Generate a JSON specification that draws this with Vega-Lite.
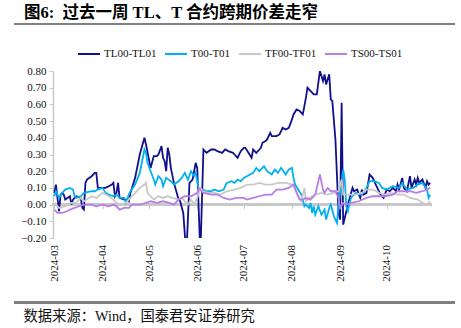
{
  "$schema": "https://vega.github.io/schema/vega-lite/v6.json",
  "width": 441,
  "height": 167,
  "autosize": {"type": "none"},
  "padding": {"left": 14, "top": 71, "right": 6, "bottom": 90},
  "background": "white",
  "config": {
    "view": {"stroke": null},
    "font": "Liberation Serif, Noto Sans CJK SC",
    "axis": {"labelFont": "Liberation Serif", "labelFontSize": 11, "labelColor": "#111"}
  },
  "title": {
    "text": "图6:\u2002过去一周 TL、T 合约跨期价差走窄",
    "anchor": "start",
    "frame": "group",
    "dx": 10,
    "offset": 2,
    "fontSize": 16.5,
    "font": "Liberation Serif, Noto Sans CJK SC",
    "fontWeight": "bold",
    "color": "#000"
  },
  "data": {"values": [
    {"s":"TL00-TL01","d":"2024-03-01","v":0.07},{"s":"TL00-TL01","d":"2024-03-02","v":0.12},{"s":"TL00-TL01","d":"2024-03-04","v":-0.04},{"s":"TL00-TL01","d":"2024-03-05","v":0.06},{"s":"TL00-TL01","d":"2024-03-06","v":0.07},{"s":"TL00-TL01","d":"2024-03-07","v":0.06},{"s":"TL00-TL01","d":"2024-03-08","v":0.03},{"s":"TL00-TL01","d":"2024-03-11","v":0.05},{"s":"TL00-TL01","d":"2024-03-12","v":0.0},{"s":"TL00-TL01","d":"2024-03-13","v":0.03},{"s":"TL00-TL01","d":"2024-03-14","v":0.04},{"s":"TL00-TL01","d":"2024-03-15","v":0.05},{"s":"TL00-TL01","d":"2024-03-18","v":0.04},{"s":"TL00-TL01","d":"2024-03-19","v":-0.02},{"s":"TL00-TL01","d":"2024-03-20","v":-0.03},{"s":"TL00-TL01","d":"2024-03-21","v":0.13},{"s":"TL00-TL01","d":"2024-03-22","v":0.15},{"s":"TL00-TL01","d":"2024-03-25","v":0.17},{"s":"TL00-TL01","d":"2024-03-27","v":0.19},{"s":"TL00-TL01","d":"2024-03-28","v":0.19},{"s":"TL00-TL01","d":"2024-03-29","v":0.10},{"s":"TL00-TL01","d":"2024-04-01","v":0.10},{"s":"TL00-TL01","d":"2024-04-03","v":0.10},{"s":"TL00-TL01","d":"2024-04-05","v":0.11},{"s":"TL00-TL01","d":"2024-04-07","v":0.12},{"s":"TL00-TL01","d":"2024-04-08","v":0.13},{"s":"TL00-TL01","d":"2024-04-09","v":0.05},{"s":"TL00-TL01","d":"2024-04-10","v":0.07},{"s":"TL00-TL01","d":"2024-04-11","v":0.13},{"s":"TL00-TL01","d":"2024-04-12","v":0.04},{"s":"TL00-TL01","d":"2024-04-15","v":0.03},{"s":"TL00-TL01","d":"2024-04-17","v":0.03},{"s":"TL00-TL01","d":"2024-04-18","v":0.02},{"s":"TL00-TL01","d":"2024-04-19","v":0.07},{"s":"TL00-TL01","d":"2024-04-22","v":0.16},{"s":"TL00-TL01","d":"2024-04-25","v":0.30},{"s":"TL00-TL01","d":"2024-04-28","v":0.40},{"s":"TL00-TL01","d":"2024-04-29","v":0.36},{"s":"TL00-TL01","d":"2024-05-02","v":0.22},{"s":"TL00-TL01","d":"2024-05-04","v":0.29},{"s":"TL00-TL01","d":"2024-05-06","v":0.29},{"s":"TL00-TL01","d":"2024-05-07","v":0.30},{"s":"TL00-TL01","d":"2024-05-09","v":0.35},{"s":"TL00-TL01","d":"2024-05-10","v":0.28},{"s":"TL00-TL01","d":"2024-05-11","v":0.26},{"s":"TL00-TL01","d":"2024-05-12","v":0.20},{"s":"TL00-TL01","d":"2024-05-13","v":0.34},{"s":"TL00-TL01","d":"2024-05-14","v":0.30},{"s":"TL00-TL01","d":"2024-05-15","v":0.22},{"s":"TL00-TL01","d":"2024-05-17","v":0.13},{"s":"TL00-TL01","d":"2024-05-20","v":0.03},{"s":"TL00-TL01","d":"2024-05-21","v":0.02},{"s":"TL00-TL01","d":"2024-05-23","v":-0.05},{"s":"TL00-TL01","d":"2024-05-25","v":-0.3},{"s":"TL00-TL01","d":"2024-05-27","v":0.13},{"s":"TL00-TL01","d":"2024-05-29","v":0.15},{"s":"TL00-TL01","d":"2024-05-31","v":0.25},{"s":"TL00-TL01","d":"2024-06-01","v":0.22},{"s":"TL00-TL01","d":"2024-06-03","v":-0.3},{"s":"TL00-TL01","d":"2024-06-05","v":0.33},{"s":"TL00-TL01","d":"2024-06-07","v":0.31},{"s":"TL00-TL01","d":"2024-06-10","v":0.33},{"s":"TL00-TL01","d":"2024-06-12","v":0.33},{"s":"TL00-TL01","d":"2024-06-14","v":0.32},{"s":"TL00-TL01","d":"2024-06-17","v":0.31},{"s":"TL00-TL01","d":"2024-06-19","v":0.33},{"s":"TL00-TL01","d":"2024-06-21","v":0.32},{"s":"TL00-TL01","d":"2024-06-24","v":0.31},{"s":"TL00-TL01","d":"2024-06-25","v":0.30},{"s":"TL00-TL01","d":"2024-06-27","v":0.28},{"s":"TL00-TL01","d":"2024-06-29","v":0.32},{"s":"TL00-TL01","d":"2024-07-01","v":0.34},{"s":"TL00-TL01","d":"2024-07-02","v":0.34},{"s":"TL00-TL01","d":"2024-07-04","v":0.31},{"s":"TL00-TL01","d":"2024-07-06","v":0.28},{"s":"TL00-TL01","d":"2024-07-07","v":0.33},{"s":"TL00-TL01","d":"2024-07-09","v":0.31},{"s":"TL00-TL01","d":"2024-07-11","v":0.33},{"s":"TL00-TL01","d":"2024-07-12","v":0.34},{"s":"TL00-TL01","d":"2024-07-13","v":0.37},{"s":"TL00-TL01","d":"2024-07-15","v":0.38},{"s":"TL00-TL01","d":"2024-07-16","v":0.39},{"s":"TL00-TL01","d":"2024-07-18","v":0.43},{"s":"TL00-TL01","d":"2024-07-19","v":0.41},{"s":"TL00-TL01","d":"2024-07-22","v":0.41},{"s":"TL00-TL01","d":"2024-07-24","v":0.42},{"s":"TL00-TL01","d":"2024-07-26","v":0.46},{"s":"TL00-TL01","d":"2024-07-28","v":0.45},{"s":"TL00-TL01","d":"2024-07-30","v":0.46},{"s":"TL00-TL01","d":"2024-08-01","v":0.51},{"s":"TL00-TL01","d":"2024-08-02","v":0.54},{"s":"TL00-TL01","d":"2024-08-04","v":0.57},{"s":"TL00-TL01","d":"2024-08-06","v":0.56},{"s":"TL00-TL01","d":"2024-08-08","v":0.54},{"s":"TL00-TL01","d":"2024-08-09","v":0.59},{"s":"TL00-TL01","d":"2024-08-10","v":0.64},{"s":"TL00-TL01","d":"2024-08-11","v":0.70},{"s":"TL00-TL01","d":"2024-08-12","v":0.69},{"s":"TL00-TL01","d":"2024-08-14","v":0.67},{"s":"TL00-TL01","d":"2024-08-15","v":0.66},{"s":"TL00-TL01","d":"2024-08-17","v":0.66},{"s":"TL00-TL01","d":"2024-08-19","v":0.80},{"s":"TL00-TL01","d":"2024-08-21","v":0.74},{"s":"TL00-TL01","d":"2024-08-22","v":0.78},{"s":"TL00-TL01","d":"2024-08-23","v":0.72},{"s":"TL00-TL01","d":"2024-08-25","v":0.78},{"s":"TL00-TL01","d":"2024-08-26","v":0.63},{"s":"TL00-TL01","d":"2024-08-27","v":0.62},{"s":"TL00-TL01","d":"2024-08-29","v":0.39},{"s":"TL00-TL01","d":"2024-08-31","v":-0.05},{"s":"TL00-TL01","d":"2024-09-01","v":-0.09},{"s":"TL00-TL01","d":"2024-09-02","v":0.61},{"s":"TL00-TL01","d":"2024-09-03","v":-0.12},{"s":"TL00-TL01","d":"2024-09-04","v":-0.08},{"s":"TL00-TL01","d":"2024-09-06","v":0.0},{"s":"TL00-TL01","d":"2024-09-09","v":0.10},{"s":"TL00-TL01","d":"2024-09-10","v":0.08},{"s":"TL00-TL01","d":"2024-09-12","v":0.09},{"s":"TL00-TL01","d":"2024-09-14","v":0.04},{"s":"TL00-TL01","d":"2024-09-15","v":0.09},{"s":"TL00-TL01","d":"2024-09-16","v":0.06},{"s":"TL00-TL01","d":"2024-09-18","v":0.07},{"s":"TL00-TL01","d":"2024-09-20","v":0.18},{"s":"TL00-TL01","d":"2024-09-22","v":0.16},{"s":"TL00-TL01","d":"2024-09-24","v":0.12},{"s":"TL00-TL01","d":"2024-09-27","v":0.06},{"s":"TL00-TL01","d":"2024-09-29","v":0.04},{"s":"TL00-TL01","d":"2024-10-01","v":0.09},{"s":"TL00-TL01","d":"2024-10-03","v":0.08},{"s":"TL00-TL01","d":"2024-10-05","v":0.10},{"s":"TL00-TL01","d":"2024-10-07","v":0.08},{"s":"TL00-TL01","d":"2024-10-08","v":0.12},{"s":"TL00-TL01","d":"2024-10-09","v":0.09},{"s":"TL00-TL01","d":"2024-10-11","v":0.16},{"s":"TL00-TL01","d":"2024-10-12","v":0.10},{"s":"TL00-TL01","d":"2024-10-14","v":0.08},{"s":"TL00-TL01","d":"2024-10-16","v":0.17},{"s":"TL00-TL01","d":"2024-10-17","v":0.10},{"s":"TL00-TL01","d":"2024-10-19","v":0.15},{"s":"TL00-TL01","d":"2024-10-20","v":0.12},{"s":"TL00-TL01","d":"2024-10-21","v":0.16},{"s":"TL00-TL01","d":"2024-10-22","v":0.13},{"s":"TL00-TL01","d":"2024-10-24","v":0.15},{"s":"TL00-TL01","d":"2024-10-26","v":0.10},{"s":"TL00-TL01","d":"2024-10-27","v":0.14},{"s":"TL00-TL01","d":"2024-10-28","v":0.12},{"s":"TL00-TL01","d":"2024-10-29","v":0.13},

    {"s":"T00-T01","d":"2024-03-01","v":0.05},{"s":"T00-T01","d":"2024-03-02","v":0.08},{"s":"T00-T01","d":"2024-03-04","v":0.04},{"s":"T00-T01","d":"2024-03-06","v":0.07},{"s":"T00-T01","d":"2024-03-08","v":0.09},{"s":"T00-T01","d":"2024-03-11","v":0.10},{"s":"T00-T01","d":"2024-03-13","v":0.09},{"s":"T00-T01","d":"2024-03-14","v":0.05},{"s":"T00-T01","d":"2024-03-15","v":0.04},{"s":"T00-T01","d":"2024-03-18","v":0.05},{"s":"T00-T01","d":"2024-03-20","v":0.07},{"s":"T00-T01","d":"2024-03-25","v":0.08},{"s":"T00-T01","d":"2024-03-27","v":0.08},{"s":"T00-T01","d":"2024-03-29","v":0.09},{"s":"T00-T01","d":"2024-04-01","v":0.10},{"s":"T00-T01","d":"2024-04-03","v":0.07},{"s":"T00-T01","d":"2024-04-05","v":0.06},{"s":"T00-T01","d":"2024-04-08","v":0.05},{"s":"T00-T01","d":"2024-04-10","v":0.06},{"s":"T00-T01","d":"2024-04-12","v":0.04},{"s":"T00-T01","d":"2024-04-15","v":0.04},{"s":"T00-T01","d":"2024-04-16","v":0.01},{"s":"T00-T01","d":"2024-04-18","v":0.06},{"s":"T00-T01","d":"2024-04-19","v":0.08},{"s":"T00-T01","d":"2024-04-22","v":0.12},{"s":"T00-T01","d":"2024-04-25","v":0.19},{"s":"T00-T01","d":"2024-04-28","v":0.33},{"s":"T00-T01","d":"2024-04-29","v":0.31},{"s":"T00-T01","d":"2024-04-30","v":0.25},{"s":"T00-T01","d":"2024-05-02","v":0.20},{"s":"T00-T01","d":"2024-05-04","v":0.15},{"s":"T00-T01","d":"2024-05-05","v":0.12},{"s":"T00-T01","d":"2024-05-07","v":0.17},{"s":"T00-T01","d":"2024-05-09","v":0.15},{"s":"T00-T01","d":"2024-05-10","v":0.11},{"s":"T00-T01","d":"2024-05-12","v":0.16},{"s":"T00-T01","d":"2024-05-15","v":0.14},{"s":"T00-T01","d":"2024-05-17","v":0.12},{"s":"T00-T01","d":"2024-05-20","v":0.14},{"s":"T00-T01","d":"2024-05-22","v":0.16},{"s":"T00-T01","d":"2024-05-24","v":0.19},{"s":"T00-T01","d":"2024-05-26","v":0.15},{"s":"T00-T01","d":"2024-05-28","v":0.20},{"s":"T00-T01","d":"2024-05-30","v":0.17},{"s":"T00-T01","d":"2024-05-31","v":0.19},{"s":"T00-T01","d":"2024-06-01","v":0.14},{"s":"T00-T01","d":"2024-06-02","v":0.09},{"s":"T00-T01","d":"2024-06-05","v":0.09},{"s":"T00-T01","d":"2024-06-07","v":0.08},{"s":"T00-T01","d":"2024-06-10","v":0.08},{"s":"T00-T01","d":"2024-06-12","v":0.09},{"s":"T00-T01","d":"2024-06-15","v":0.08},{"s":"T00-T01","d":"2024-06-18","v":0.09},{"s":"T00-T01","d":"2024-06-20","v":0.13},{"s":"T00-T01","d":"2024-06-23","v":0.14},{"s":"T00-T01","d":"2024-06-25","v":0.13},{"s":"T00-T01","d":"2024-06-27","v":0.15},{"s":"T00-T01","d":"2024-06-29","v":0.14},{"s":"T00-T01","d":"2024-07-01","v":0.16},{"s":"T00-T01","d":"2024-07-03","v":0.17},{"s":"T00-T01","d":"2024-07-07","v":0.19},{"s":"T00-T01","d":"2024-07-09","v":0.22},{"s":"T00-T01","d":"2024-07-11","v":0.20},{"s":"T00-T01","d":"2024-07-14","v":0.23},{"s":"T00-T01","d":"2024-07-16","v":0.20},{"s":"T00-T01","d":"2024-07-19","v":0.18},{"s":"T00-T01","d":"2024-07-21","v":0.21},{"s":"T00-T01","d":"2024-07-23","v":0.19},{"s":"T00-T01","d":"2024-07-25","v":0.22},{"s":"T00-T01","d":"2024-07-28","v":0.18},{"s":"T00-T01","d":"2024-07-30","v":0.21},{"s":"T00-T01","d":"2024-08-01","v":0.22},{"s":"T00-T01","d":"2024-08-02","v":0.16},{"s":"T00-T01","d":"2024-08-03","v":0.12},{"s":"T00-T01","d":"2024-08-05","v":0.09},{"s":"T00-T01","d":"2024-08-07","v":0.06},{"s":"T00-T01","d":"2024-08-08","v":0.03},{"s":"T00-T01","d":"2024-08-09","v":-0.01},{"s":"T00-T01","d":"2024-08-10","v":0.0},{"s":"T00-T01","d":"2024-08-12","v":-0.02},{"s":"T00-T01","d":"2024-08-13","v":0.01},{"s":"T00-T01","d":"2024-08-14","v":-0.05},{"s":"T00-T01","d":"2024-08-15","v":-0.01},{"s":"T00-T01","d":"2024-08-16","v":-0.06},{"s":"T00-T01","d":"2024-08-18","v":-0.01},{"s":"T00-T01","d":"2024-08-20","v":-0.06},{"s":"T00-T01","d":"2024-08-22","v":-0.03},{"s":"T00-T01","d":"2024-08-23","v":-0.09},{"s":"T00-T01","d":"2024-08-25","v":-0.02},{"s":"T00-T01","d":"2024-08-26","v":0.0},{"s":"T00-T01","d":"2024-08-28","v":-0.07},{"s":"T00-T01","d":"2024-08-30","v":-0.11},{"s":"T00-T01","d":"2024-08-31","v":0.0},{"s":"T00-T01","d":"2024-09-03","v":0.21},{"s":"T00-T01","d":"2024-09-04","v":0.15},{"s":"T00-T01","d":"2024-09-05","v":-0.01},{"s":"T00-T01","d":"2024-09-06","v":-0.04},{"s":"T00-T01","d":"2024-09-08","v":0.04},{"s":"T00-T01","d":"2024-09-11","v":0.07},{"s":"T00-T01","d":"2024-09-14","v":0.06},{"s":"T00-T01","d":"2024-09-16","v":0.07},{"s":"T00-T01","d":"2024-09-18","v":0.10},{"s":"T00-T01","d":"2024-09-20","v":0.14},{"s":"T00-T01","d":"2024-09-23","v":0.14},{"s":"T00-T01","d":"2024-09-26","v":0.13},{"s":"T00-T01","d":"2024-09-28","v":0.10},{"s":"T00-T01","d":"2024-10-01","v":0.09},{"s":"T00-T01","d":"2024-10-05","v":0.11},{"s":"T00-T01","d":"2024-10-09","v":0.10},{"s":"T00-T01","d":"2024-10-11","v":0.13},{"s":"T00-T01","d":"2024-10-14","v":0.09},{"s":"T00-T01","d":"2024-10-18","v":0.10},{"s":"T00-T01","d":"2024-10-21","v":0.12},{"s":"T00-T01","d":"2024-10-24","v":0.13},{"s":"T00-T01","d":"2024-10-27","v":0.09},{"s":"T00-T01","d":"2024-10-28","v":0.04},{"s":"T00-T01","d":"2024-10-29","v":0.06},

    {"s":"TF00-TF01","d":"2024-03-01","v":0.01},{"s":"TF00-TF01","d":"2024-03-04","v":-0.02},{"s":"TF00-TF01","d":"2024-03-08","v":-0.01},{"s":"TF00-TF01","d":"2024-03-12","v":0.01},{"s":"TF00-TF01","d":"2024-03-15","v":0.01},{"s":"TF00-TF01","d":"2024-03-18","v":0.04},{"s":"TF00-TF01","d":"2024-03-20","v":0.02},{"s":"TF00-TF01","d":"2024-03-25","v":0.05},{"s":"TF00-TF01","d":"2024-03-28","v":0.04},{"s":"TF00-TF01","d":"2024-04-01","v":0.07},{"s":"TF00-TF01","d":"2024-04-03","v":0.06},{"s":"TF00-TF01","d":"2024-04-05","v":0.05},{"s":"TF00-TF01","d":"2024-04-08","v":0.03},{"s":"TF00-TF01","d":"2024-04-10","v":0.01},{"s":"TF00-TF01","d":"2024-04-13","v":0.0},{"s":"TF00-TF01","d":"2024-04-16","v":0.01},{"s":"TF00-TF01","d":"2024-04-19","v":0.04},{"s":"TF00-TF01","d":"2024-04-22","v":0.07},{"s":"TF00-TF01","d":"2024-04-25","v":0.10},{"s":"TF00-TF01","d":"2024-04-28","v":0.12},{"s":"TF00-TF01","d":"2024-04-29","v":0.13},{"s":"TF00-TF01","d":"2024-04-30","v":0.07},{"s":"TF00-TF01","d":"2024-05-02","v":0.05},{"s":"TF00-TF01","d":"2024-05-04","v":0.03},{"s":"TF00-TF01","d":"2024-05-07","v":0.05},{"s":"TF00-TF01","d":"2024-05-10","v":0.04},{"s":"TF00-TF01","d":"2024-05-13","v":0.05},{"s":"TF00-TF01","d":"2024-05-16","v":0.04},{"s":"TF00-TF01","d":"2024-05-20","v":0.03},{"s":"TF00-TF01","d":"2024-05-22","v":0.04},{"s":"TF00-TF01","d":"2024-05-26","v":0.0},{"s":"TF00-TF01","d":"2024-05-28","v":0.03},{"s":"TF00-TF01","d":"2024-05-30","v":0.0},{"s":"TF00-TF01","d":"2024-06-01","v":0.04},{"s":"TF00-TF01","d":"2024-06-03","v":0.10},{"s":"TF00-TF01","d":"2024-06-05","v":0.08},{"s":"TF00-TF01","d":"2024-06-08","v":0.07},{"s":"TF00-TF01","d":"2024-06-12","v":0.07},{"s":"TF00-TF01","d":"2024-06-16","v":0.06},{"s":"TF00-TF01","d":"2024-06-20","v":0.08},{"s":"TF00-TF01","d":"2024-06-25","v":0.09},{"s":"TF00-TF01","d":"2024-06-29","v":0.10},{"s":"TF00-TF01","d":"2024-07-01","v":0.11},{"s":"TF00-TF01","d":"2024-07-03","v":0.12},{"s":"TF00-TF01","d":"2024-07-07","v":0.12},{"s":"TF00-TF01","d":"2024-07-11","v":0.13},{"s":"TF00-TF01","d":"2024-07-15","v":0.12},{"s":"TF00-TF01","d":"2024-07-19","v":0.12},{"s":"TF00-TF01","d":"2024-07-23","v":0.13},{"s":"TF00-TF01","d":"2024-07-28","v":0.13},{"s":"TF00-TF01","d":"2024-08-01","v":0.12},{"s":"TF00-TF01","d":"2024-08-03","v":0.10},{"s":"TF00-TF01","d":"2024-08-05","v":0.05},{"s":"TF00-TF01","d":"2024-08-07","v":0.02},{"s":"TF00-TF01","d":"2024-08-09","v":0.10},{"s":"TF00-TF01","d":"2024-08-10","v":0.02},{"s":"TF00-TF01","d":"2024-08-12","v":0.04},{"s":"TF00-TF01","d":"2024-08-16","v":0.06},{"s":"TF00-TF01","d":"2024-08-20","v":0.07},{"s":"TF00-TF01","d":"2024-08-24","v":0.06},{"s":"TF00-TF01","d":"2024-08-28","v":0.07},{"s":"TF00-TF01","d":"2024-08-31","v":0.08},{"s":"TF00-TF01","d":"2024-09-02","v":0.15},{"s":"TF00-TF01","d":"2024-09-03","v":0.06},{"s":"TF00-TF01","d":"2024-09-06","v":0.06},{"s":"TF00-TF01","d":"2024-09-11","v":0.06},{"s":"TF00-TF01","d":"2024-09-15","v":0.07},{"s":"TF00-TF01","d":"2024-09-18","v":0.09},{"s":"TF00-TF01","d":"2024-09-22","v":0.09},{"s":"TF00-TF01","d":"2024-09-26","v":0.07},{"s":"TF00-TF01","d":"2024-09-30","v":0.06},{"s":"TF00-TF01","d":"2024-10-03","v":0.07},{"s":"TF00-TF01","d":"2024-10-08","v":0.06},{"s":"TF00-TF01","d":"2024-10-12","v":0.06},{"s":"TF00-TF01","d":"2024-10-16","v":0.04},{"s":"TF00-TF01","d":"2024-10-21","v":0.03},{"s":"TF00-TF01","d":"2024-10-24","v":0.01},{"s":"TF00-TF01","d":"2024-10-27","v":0.0},{"s":"TF00-TF01","d":"2024-10-29","v":0.02},

    {"s":"TS00-TS01","d":"2024-03-01","v":-0.03},{"s":"TS00-TS01","d":"2024-03-03","v":-0.05},{"s":"TS00-TS01","d":"2024-03-06","v":-0.05},{"s":"TS00-TS01","d":"2024-03-09","v":-0.04},{"s":"TS00-TS01","d":"2024-03-11","v":-0.03},{"s":"TS00-TS01","d":"2024-03-14","v":-0.02},{"s":"TS00-TS01","d":"2024-03-17","v":-0.01},{"s":"TS00-TS01","d":"2024-03-20","v":0.0},{"s":"TS00-TS01","d":"2024-03-25","v":0.0},{"s":"TS00-TS01","d":"2024-03-28","v":-0.01},{"s":"TS00-TS01","d":"2024-04-01","v":0.0},{"s":"TS00-TS01","d":"2024-04-05","v":-0.01},{"s":"TS00-TS01","d":"2024-04-08","v":0.0},{"s":"TS00-TS01","d":"2024-04-10","v":-0.01},{"s":"TS00-TS01","d":"2024-04-12","v":-0.03},{"s":"TS00-TS01","d":"2024-04-15","v":-0.02},{"s":"TS00-TS01","d":"2024-04-18","v":-0.02},{"s":"TS00-TS01","d":"2024-04-20","v":0.0},{"s":"TS00-TS01","d":"2024-04-25","v":0.0},{"s":"TS00-TS01","d":"2024-04-29","v":0.01},{"s":"TS00-TS01","d":"2024-05-02","v":0.02},{"s":"TS00-TS01","d":"2024-05-06","v":0.01},{"s":"TS00-TS01","d":"2024-05-10","v":0.02},{"s":"TS00-TS01","d":"2024-05-14","v":0.01},{"s":"TS00-TS01","d":"2024-05-17","v":0.0},{"s":"TS00-TS01","d":"2024-05-20","v":0.03},{"s":"TS00-TS01","d":"2024-05-24","v":0.05},{"s":"TS00-TS01","d":"2024-05-28","v":0.05},{"s":"TS00-TS01","d":"2024-06-01","v":0.07},{"s":"TS00-TS01","d":"2024-06-02","v":0.10},{"s":"TS00-TS01","d":"2024-06-05","v":0.07},{"s":"TS00-TS01","d":"2024-06-10","v":0.06},{"s":"TS00-TS01","d":"2024-06-14","v":0.06},{"s":"TS00-TS01","d":"2024-06-18","v":0.04},{"s":"TS00-TS01","d":"2024-06-22","v":0.03},{"s":"TS00-TS01","d":"2024-06-26","v":0.04},{"s":"TS00-TS01","d":"2024-07-01","v":0.04},{"s":"TS00-TS01","d":"2024-07-03","v":0.03},{"s":"TS00-TS01","d":"2024-07-07","v":0.04},{"s":"TS00-TS01","d":"2024-07-11","v":0.05},{"s":"TS00-TS01","d":"2024-07-15","v":0.06},{"s":"TS00-TS01","d":"2024-07-19","v":0.06},{"s":"TS00-TS01","d":"2024-07-22","v":0.09},{"s":"TS00-TS01","d":"2024-07-26","v":0.09},{"s":"TS00-TS01","d":"2024-07-30","v":0.10},{"s":"TS00-TS01","d":"2024-08-02","v":0.12},{"s":"TS00-TS01","d":"2024-08-04","v":0.07},{"s":"TS00-TS01","d":"2024-08-06","v":0.03},{"s":"TS00-TS01","d":"2024-08-08","v":0.03},{"s":"TS00-TS01","d":"2024-08-10","v":0.04},{"s":"TS00-TS01","d":"2024-08-13","v":0.03},{"s":"TS00-TS01","d":"2024-08-16","v":0.06},{"s":"TS00-TS01","d":"2024-08-19","v":0.18},{"s":"TS00-TS01","d":"2024-08-21","v":0.09},{"s":"TS00-TS01","d":"2024-08-22","v":0.07},{"s":"TS00-TS01","d":"2024-08-24","v":0.10},{"s":"TS00-TS01","d":"2024-08-26","v":0.08},{"s":"TS00-TS01","d":"2024-08-29","v":0.08},{"s":"TS00-TS01","d":"2024-08-31","v":0.04},{"s":"TS00-TS01","d":"2024-09-01","v":-0.02},{"s":"TS00-TS01","d":"2024-09-03","v":0.01},{"s":"TS00-TS01","d":"2024-09-05","v":0.0},{"s":"TS00-TS01","d":"2024-09-08","v":0.01},{"s":"TS00-TS01","d":"2024-09-13","v":0.02},{"s":"TS00-TS01","d":"2024-09-18","v":0.04},{"s":"TS00-TS01","d":"2024-09-22","v":0.05},{"s":"TS00-TS01","d":"2024-09-26","v":0.05},{"s":"TS00-TS01","d":"2024-09-30","v":0.05},{"s":"TS00-TS01","d":"2024-10-05","v":0.06},{"s":"TS00-TS01","d":"2024-10-08","v":0.08},{"s":"TS00-TS01","d":"2024-10-12","v":0.08},{"s":"TS00-TS01","d":"2024-10-16","v":0.08},{"s":"TS00-TS01","d":"2024-10-20","v":0.07},{"s":"TS00-TS01","d":"2024-10-24","v":0.08},{"s":"TS00-TS01","d":"2024-10-27","v":0.09},{"s":"TS00-TS01","d":"2024-10-29","v":0.10}
  ]},
  "layer": [
    {
      "mark": {"type": "rule", "color": "#C8C8C8", "strokeWidth": 1.5},
      "encoding": {
        "x": {"datum": {"year": 2024, "month": 2, "date": 29, "utc": true}, "type": "temporal",
          "scale": {"type": "utc", "domain": [{"year": 2024, "month": 2, "date": 4, "utc": true}, {"year": 2024, "month": 11, "date": 14, "utc": true}]},
          "axis": {
            "values": [
              {"year": 2024, "month": 3, "date": 1, "utc": true},
              {"year": 2024, "month": 4, "date": 1, "utc": true},
              {"year": 2024, "month": 5, "date": 1, "utc": true},
              {"year": 2024, "month": 6, "date": 1, "utc": true},
              {"year": 2024, "month": 7, "date": 1, "utc": true},
              {"year": 2024, "month": 8, "date": 1, "utc": true},
              {"year": 2024, "month": 9, "date": 1, "utc": true},
              {"year": 2024, "month": 10, "date": 1, "utc": true}
            ],
            "tickCount": 20,
            "format": "%Y-%m",
            "labelAngle": -90,
            "offset": -33.4,
            "domain": false,
            "grid": false,
            "ticks": true,
            "tickSize": 4,
            "tickColor": "#C8C8C8",
            "tickWidth": 1,
            "labelPadding": 36,
            "labelFlush": false,
            "labelOverlap": false,
            "title": "数据来源：Wind，国泰君安证券研究",
            "titleAnchor": "start",
            "titleAlign": "left",
            "titleBaseline": "alphabetic",
            "titleX": 9,
            "titleY": 116,
            "titleFontSize": 14.3,
            "titleFontWeight": "normal",
            "titleFont": "Liberation Serif, Noto Sans CJK SC",
            "titleColor": "#111"
          }
        },
        "x2": {"datum": {"year": 2024, "month": 10, "date": 30, "utc": true}},
        "y": {"datum": 0, "type": "quantitative",
          "scale": {"domain": [-0.2, 0.8], "nice": false, "zero": false},
          "axis": {
            "values": [-0.2, -0.1, 0, 0.1, 0.2, 0.3, 0.4, 0.5, 0.6, 0.7, 0.8],
            "tickCount": 20,
            "format": ".2f",
            "offset": -39,
            "grid": false,
            "domainColor": "#C8C8C8",
            "domainWidth": 1.5,
            "tickColor": "#C8C8C8",
            "tickSize": 4,
            "labelPadding": 3,
            "labelOverlap": false,
            "labelFlush": false,
            "title": null
          }
        }
      }
    },
    {
      "mark": {"type": "rule", "color": "#808080", "strokeWidth": 2},
      "encoding": {"y": {"datum": 1.081, "type": "quantitative"}}
    },
    {
      "mark": {"type": "rule", "color": "#808080", "strokeWidth": 1.5},
      "encoding": {"y": {"datum": -0.586, "type": "quantitative"}}
    },
    {
      "mark": {"type": "line", "strokeWidth": 1.8, "clip": true, "interpolate": "linear"},
      "encoding": {
        "x": {"field": "d", "type": "temporal"},
        "y": {"field": "v", "type": "quantitative"},
        "color": {
          "field": "s", "type": "nominal",
          "scale": {
            "domain": ["TL00-TL01", "T00-T01", "TF00-TF01", "TS00-TS01"],
            "range": ["#10108C", "#00B0F0", "#C8C8C8", "#B87EE8"]
          },
          "legend": {
            "orient": "none",
            "legendX": 63,
            "legendY": -29,
            "direction": "horizontal",
            "title": null,
            "symbolType": "stroke",
            "symbolSize": 484,
            "symbolStrokeWidth": 2,
            "labelFont": "Liberation Serif",
            "labelFontSize": 11,
            "labelColor": "#111",
            "labelOffset": 3,
            "columnPadding": 4,
            "padding": 0
          }
        }
      }
    }
  ]
}
